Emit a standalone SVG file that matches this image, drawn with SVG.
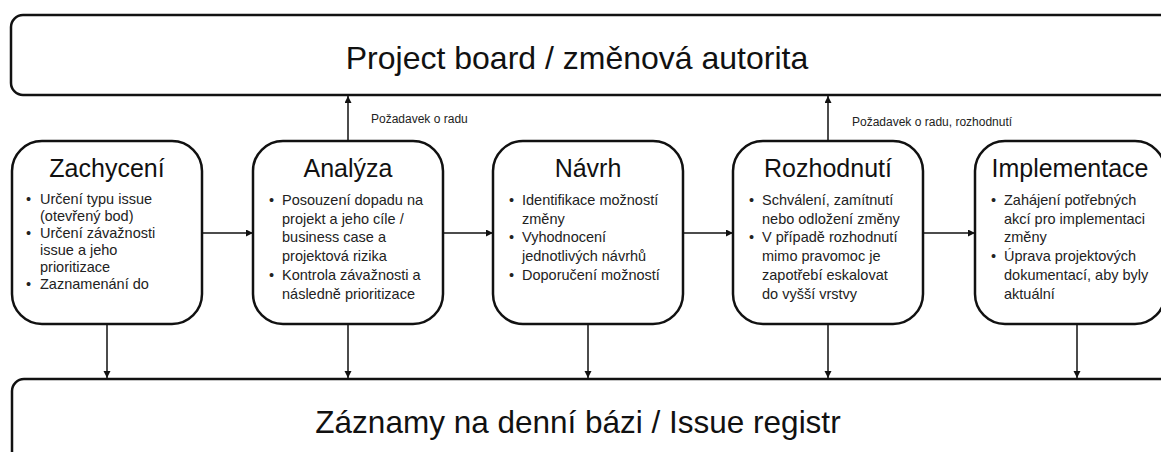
<svg xmlns="http://www.w3.org/2000/svg" width="1161" height="452" viewBox="0 0 1161 452">
<style>
  .box { fill: #ffffff; stroke: #111111; stroke-width: 2.5; }
  .banner { font-family: "Liberation Sans", Arial, sans-serif; font-size: 32px; fill: #111111; text-anchor: middle; }
  .title { font-family: "Liberation Sans", Arial, sans-serif; font-size: 25px; fill: #111111; text-anchor: middle; }
  .body { font-family: "Liberation Sans", Arial, sans-serif; font-size: 14.5px; fill: #222222; }
  .lbl { font-family: "Liberation Sans", Arial, sans-serif; font-size: 12px; fill: #222222; }
  .conn { stroke: #111111; stroke-width: 1.5; fill: none; marker-end: url(#ah); }
</style>
<defs>
  <marker id="ah" markerUnits="userSpaceOnUse" markerWidth="8" markerHeight="8" refX="7" refY="3.5" orient="auto">
    <path d="M0,0 L7,3.5 L0,7 z" fill="#111111"/>
  </marker>
</defs>
<rect width="1161" height="452" fill="#ffffff"/>

<g id="board">
  <rect class="box" x="11" y="15" width="1170" height="80" rx="12" ry="12"/>
  <text class="banner" x="577" y="69">Project board / změnová autorita</text>
</g>

<g id="registr">
  <rect class="box" x="12" y="379" width="1170" height="100" rx="12" ry="12"/>
  <text class="banner" x="578" y="433" style="font-size:31.5px">Záznamy na denní bázi / Issue registr</text>
</g>

<g id="zachyceni">
  <rect class="box" x="12" y="141" width="190" height="183" rx="30" ry="30"/>
  <text class="title" x="107" y="177">Zachycení</text>
  <text class="body" x="26" y="204">•</text>
  <text class="body" x="40" y="204">Určení typu issue</text>
  <text class="body" x="40" y="221">(otevřený bod)</text>
  <text class="body" x="26" y="238">•</text>
  <text class="body" x="40" y="238">Určení závažnosti</text>
  <text class="body" x="40" y="255">issue a jeho</text>
  <text class="body" x="40" y="272">prioritizace</text>
  <text class="body" x="26" y="289">•</text>
  <text class="body" x="40" y="289">Zaznamenání do</text>
</g>

<g id="analyza">
  <rect class="box" x="253" y="141" width="190" height="183" rx="30" ry="30"/>
  <text class="title" x="348" y="177">Analýza</text>
  <text class="body" x="269" y="205">•</text>
  <text class="body" x="282" y="205">Posouzení dopadu na</text>
  <text class="body" x="282" y="223.7">projekt a jeho cíle /</text>
  <text class="body" x="282" y="242.4">business case a</text>
  <text class="body" x="282" y="261.1">projektová rizika</text>
  <text class="body" x="269" y="279.8">•</text>
  <text class="body" x="282" y="279.8">Kontrola závažnosti a</text>
  <text class="body" x="282" y="298.5">následně prioritizace</text>
</g>

<g id="navrh">
  <rect class="box" x="493" y="141" width="190" height="183" rx="30" ry="30"/>
  <text class="title" x="588" y="177">Návrh</text>
  <text class="body" x="509" y="205">•</text>
  <text class="body" x="522" y="205">Identifikace možností</text>
  <text class="body" x="522" y="223.7">změny</text>
  <text class="body" x="509" y="242.4">•</text>
  <text class="body" x="522" y="242.4">Vyhodnocení</text>
  <text class="body" x="522" y="261.1">jednotlivých návrhů</text>
  <text class="body" x="509" y="279.8">•</text>
  <text class="body" x="522" y="279.8">Doporučení možností</text>
</g>

<g id="rozhodnuti">
  <rect class="box" x="733" y="141" width="190" height="183" rx="30" ry="30"/>
  <text class="title" x="828" y="177">Rozhodnutí</text>
  <text class="body" x="749" y="205">•</text>
  <text class="body" x="762" y="205">Schválení, zamítnutí</text>
  <text class="body" x="762" y="223.7">nebo odložení změny</text>
  <text class="body" x="749" y="242.4">•</text>
  <text class="body" x="762" y="242.4">V případě rozhodnutí</text>
  <text class="body" x="762" y="261.1">mimo pravomoc je</text>
  <text class="body" x="762" y="279.8">zapotřebí eskalovat</text>
  <text class="body" x="762" y="298.5">do vyšší vrstvy</text>
</g>

<g id="implementace">
  <rect class="box" x="975" y="141" width="190" height="183" rx="30" ry="30"/>
  <text class="title" x="1070" y="177">Implementace</text>
  <text class="body" x="991" y="205">•</text>
  <text class="body" x="1004" y="205">Zahájení potřebných</text>
  <text class="body" x="1004" y="223.7">akcí pro implementaci</text>
  <text class="body" x="1004" y="242.4">změny</text>
  <text class="body" x="991" y="261.1">•</text>
  <text class="body" x="1004" y="261.1">Úprava projektových</text>
  <text class="body" x="1004" y="279.8">dokumentací, aby byly</text>
  <text class="body" x="1004" y="298.5">aktuální</text>
</g>

<g id="connectors">
  <line class="conn" x1="202" y1="233" x2="253" y2="233"/>
  <line class="conn" x1="443" y1="233" x2="493" y2="233"/>
  <line class="conn" x1="683" y1="233" x2="733" y2="233"/>
  <line class="conn" x1="923" y1="233" x2="975" y2="233"/>
  <line class="conn" x1="348" y1="141" x2="348" y2="96"/>
  <line class="conn" x1="828" y1="141" x2="828" y2="96"/>
  <line class="conn" x1="107" y1="324" x2="107" y2="378"/>
  <line class="conn" x1="348" y1="324" x2="348" y2="378"/>
  <line class="conn" x1="588" y1="324" x2="588" y2="378"/>
  <line class="conn" x1="828" y1="324" x2="828" y2="378"/>
  <line class="conn" x1="1077" y1="324" x2="1077" y2="378"/>
  <text class="lbl" x="371" y="123">Požadavek o radu</text>
  <text class="lbl" x="852" y="126">Požadavek o radu, rozhodnutí</text>
</g>
</svg>
